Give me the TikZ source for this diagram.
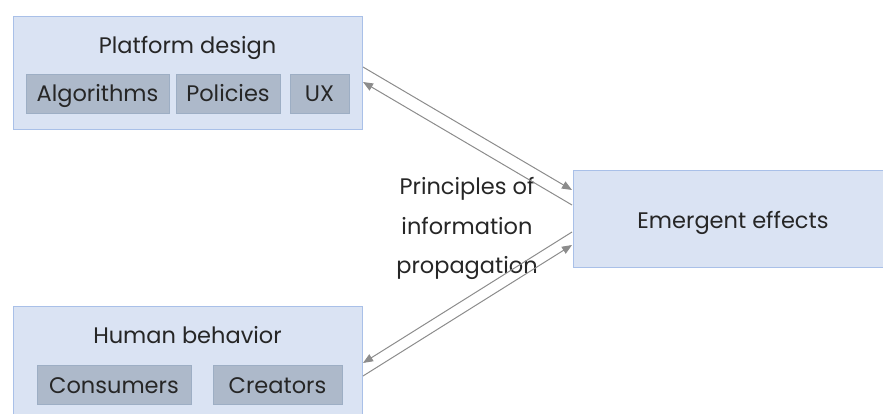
\documentclass[tikz,border=0pt]{standalone}
\usepackage{fontspec}
\setmainfont{Poppins}
\usetikzlibrary{arrows.meta}
\definecolor{boxfill}{HTML}{DAE3F3}
\definecolor{boxline}{HTML}{A9C0E8}
\definecolor{subfill}{HTML}{ADB9CA}
\definecolor{subline}{HTML}{9DAEC4}
\definecolor{txt}{HTML}{262626}
\definecolor{arr}{HTML}{8C8C8C}
\begin{document}
\begin{tikzpicture}[x=1pt,y=-1pt,
  bigbox/.style={draw=boxline,fill=boxfill,line width=0.8pt},
  subbox/.style={draw=subline,fill=subfill,line width=0.8pt},
  lbl/.style={text=txt,font=\fontsize{22.5}{27}\selectfont,inner sep=0pt,anchor=base},
  conn/.style={draw=arr,line width=1pt,-{Triangle[length=10pt,width=8pt]}}]
\useasboundingbox (0,0) rectangle (883,414);
% boxes
\path[bigbox] (13,16) rectangle (362,129);
\node[lbl] (pd) at (187.5,54) {Platform design};
\path[subbox] (26,74) rectangle (169,113);
\node[lbl] (alg) at (97.5,102) {Algorithms};
\path[subbox] (176,74) rectangle (280,113);
\node[lbl] (pol) at (228,102) {Policies};
\path[subbox] (290,74) rectangle (349,113);
\node[lbl] (ux) at (319.5,102) {UX};

\path[bigbox] (13,306) rectangle (362,420);
\node[lbl] (hb) at (187.5,343) {Human behavior};
\path[subbox] (37,365) rectangle (191,404);
\node[lbl] (con) at (114,393) {Consumers};
\path[subbox] (213,365) rectangle (342,404);
\node[lbl] (cre) at (277.5,393) {Creators};

\path[bigbox] (573,170) rectangle (890,267);
\node[lbl] (ee) at (733,228) {Emergent effects};

\node[lbl] (pip1) at (467,195) {Principles of};
\node[lbl] (pip2) at (467,234) {information};
\node[lbl] (pip3) at (467,273) {propagation};

% connector anchors
\coordinate (p1) at (363,67);
\coordinate (e1) at (572,190);
\coordinate (e2) at (572,205);
\coordinate (p2) at (363,82);
\coordinate (e3) at (572,232);
\coordinate (h1) at (363,363);
\coordinate (h2) at (363,376);
\coordinate (e4) at (572,245);
\draw[conn] (p1) -- (e1);
\draw[conn] (e2) -- (p2);
\draw[conn] (e3) -- (h1);
\draw[conn] (h2) -- (e4);
\end{tikzpicture}
\end{document}
